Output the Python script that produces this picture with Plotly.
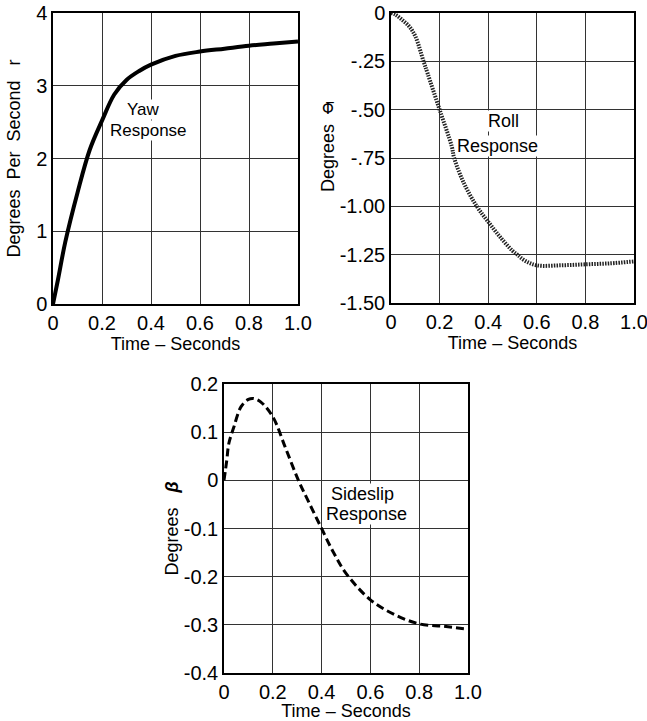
import plotly.graph_objects as go

# ---------------- data ----------------
yaw_t = [0, 0.02, 0.05, 0.1, 0.15, 0.2, 0.25, 0.3, 0.35, 0.4, 0.5, 0.6, 0.7, 0.8, 0.9, 1.0]
yaw_r = [0, 0.33, 0.85, 1.53, 2.12, 2.52, 2.88, 3.08, 3.2, 3.29, 3.41, 3.47, 3.51, 3.55, 3.58, 3.61]

roll_t = [0, 0.02, 0.05, 0.075, 0.1, 0.134, 0.15, 0.2, 0.25, 0.26, 0.3, 0.353, 0.4, 0.45, 0.5, 0.52, 0.55, 0.6, 0.7, 0.8, 0.9, 1.0]
roll_phi = [0, -0.01, -0.04, -0.07, -0.12, -0.25, -0.31, -0.5, -0.69, -0.75, -0.88, -1.0, -1.08, -1.16, -1.23, -1.25, -1.28, -1.305, -1.305, -1.30, -1.295, -1.285]

slip_t = [0, 0.011, 0.02, 0.04, 0.07, 0.1, 0.12, 0.15, 0.2, 0.25, 0.305, 0.35, 0.4, 0.45, 0.5, 0.6, 0.7, 0.8, 0.9, 1.0]
slip_beta = [0, 0.04, 0.077, 0.11, 0.153, 0.168, 0.17, 0.163, 0.132, 0.07, 0.0, -0.048, -0.1, -0.151, -0.193, -0.248, -0.279, -0.298, -0.303, -0.309]

x_ticks = [0, 0.2, 0.4, 0.6, 0.8, 1.0]
x_ticklabels = ["0", "0.2", "0.4", "0.6", "0.8", "1.0"]
yaw_ticks = [0, 1, 2, 3, 4]
yaw_ticklabels = ["0", "1", "2", "3", "4"]
roll_ticks = [0, -0.25, -0.5, -0.75, -1.0, -1.25, -1.5]
roll_ticklabels = ["0", "-.25", "-.50", "-.75", "-1.00", "-1.25", "-1.50"]
slip_ticks = [0.2, 0.1, 0, -0.1, -0.2, -0.3, -0.4]
slip_ticklabels = ["0.2", "0.1", "0", "-0.1", "-0.2", "-0.3", "-0.4"]

W, H = 647, 721
FONT = "Liberation Sans"

def xd(a, b):
    return [a / W, b / W]

def yd(top, bottom):
    return [1 - bottom / H, 1 - top / H]

fig = go.Figure()
fig.add_trace(go.Scatter(x=yaw_t, y=yaw_r, mode="lines", line=dict(color="black", width=4, shape="spline"),
                         xaxis="x", yaxis="y", showlegend=False))
fig.add_trace(go.Scatter(x=roll_t, y=roll_phi, mode="lines", line=dict(color="#222", width=4, shape="spline", dash="1.5px,1.2px"),
                         xaxis="x2", yaxis="y2", showlegend=False))
fig.add_trace(go.Scatter(x=slip_t, y=slip_beta, mode="lines", line=dict(color="black", width=3, shape="spline", dash="8px,4px"),
                         xaxis="x3", yaxis="y3", showlegend=False))

axis_common = dict(showgrid=True, gridcolor="#333", gridwidth=1, zeroline=False,
                   showline=True, linecolor="black", linewidth=1.5, mirror=True, automargin=False,
                   ticks="", ticklabeloverflow="allow", tickfont=dict(family=FONT, size=20, color="black"))

def xaxis(domain, anchor):
    return dict(axis_common, domain=domain, anchor=anchor, range=[0, 1], tickvals=x_ticks, ticktext=x_ticklabels,
                title=dict(text="Time \u2013 Seconds", font=dict(family=FONT, size=18, color="black"), standoff=0))

def yaxis(domain, anchor, rng, tv, tt, title, standoff):
    return dict(axis_common, domain=domain, anchor=anchor, range=rng, tickvals=tv, ticktext=tt,
                title=dict(text=title, font=dict(family=FONT, size=18, color="black"), standoff=standoff))

def label(text, x, y, ax, size=18):
    return dict(x=x, y=y, xref="x" + ax, yref="y" + ax, text=text, showarrow=False,
                font=dict(family=FONT, size=size, color="black"), bgcolor="white", borderpad=0)

fig.update_layout(
    width=W, height=H, margin=dict(l=0, r=0, t=0, b=0, autoexpand=False),
    paper_bgcolor="white", plot_bgcolor="white",
    xaxis=xaxis(xd(53, 298), "y"),
    yaxis=yaxis(yd(13, 304), "x", [0, 4], yaw_ticks, yaw_ticklabels, "Degrees  Per  Second   r", 11),
    xaxis2=xaxis(xd(391, 634), "y2"),
    yaxis2=yaxis(yd(13, 303), "x2", [-1.5, 0], roll_ticks, roll_ticklabels, "Degrees", 0),
    xaxis3=xaxis(xd(224, 468), "y3"),
    yaxis3=yaxis(yd(384, 673), "x3", [-0.4, 0.2], slip_ticks, slip_ticklabels, "Degrees   <b><i>\u03b2</i></b>", 0),
    annotations=[
        label("Yaw", 0.371, 2.68, "", 17),
        label("Response", 0.388, 2.39, "", 17),
        label("Roll", 0.465, -0.561, "2"),
        label("Response", 0.438, -0.688, "2"),
        label("Sideslip", 0.568, -0.028, "3"),
        label("Response", 0.586, -0.070, "3"),
        dict(x=328 / W, y=1 - 98 / H, xref="paper", yref="paper", text="\u03a6\u0305", showarrow=False,
             font=dict(family="DejaVu Sans", size=15, color="black")),
    ],
)

fig.write_html("out.html", config={"displayModeBar": False},
               post_script="document.body.style.margin='0px';")
